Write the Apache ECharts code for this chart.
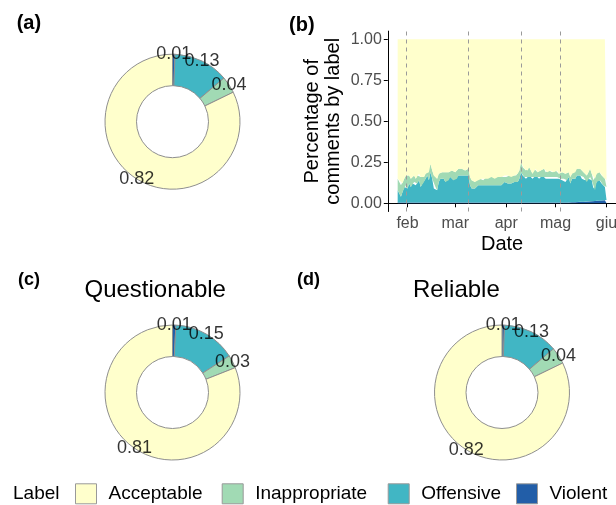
<!DOCTYPE html>
<html><head><meta charset="utf-8">
<script src="https://cdn.jsdelivr.net/npm/echarts@6/dist/echarts.min.js"></script>
<style>html,body{margin:0;padding:0;background:#fff}#c{width:616px;height:505px}</style>
</head><body><div id="c"></div><script>
// ---------- data ----------
const labelNames = ['Acceptable', 'Inappropriate', 'Offensive', 'Violent'];
const labelColors = ['#FFFFCC', '#A1DAB4', '#41B6C4', '#225EA8'];

// Pie order (clockwise from 12 o'clock)
const pieOrder = ['Violent', 'Offensive', 'Inappropriate', 'Acceptable'];
const pieAll = [0.006, 0.132, 0.040, 0.822];
const pieQuestionable = [0.008, 0.151, 0.031, 0.810];
const pieReliable = [0.006, 0.132, 0.040, 0.822];

// Daily series: first day = 26 Jan 2020 (day-of-year index, 0 = 1 Jan)
const firstDay = 25;
const violent = [
 .005,.005,.005,.005,.005,.005,.005,.005,.005,.005,
 .005,.005,.005,.005,.005,.005,.005,.005,.005,.005,
 .005,.005,.005,.005,.005,.005,.005,.005,.005,.005,
 .005,.005,.005,.005,.005,.005,.005,.005,.005,.005,
 .005,.005,.005,.005,.005,.005,.005,.005,.005,.005,
 .005,.005,.005,.005,.005,.005,.005,.005,.005,.005,
 .005,.005,.005,.005,.005,.005,.005,.005,.005,.005,
 .005,.005,.005,.005,.005,.005,.005,.005,.005,.005,
 .005,.005,.005,.005,.005,.005,.005,.005,.005,.005,
 .005,.005,.005,.005,.005,.005,.005,.005,.005,.005,
 .005,.005,.005,.005,.005,.006,.006,.007,.007,.008,
 .008,.009,.009,.010,.010,.011,.011,.012,.012,.013,
 .014,.015,.015,.016,.017,.018,.019,.020];
const offensive = [
 .075,.055,.035,.065,.095,.105,.085,.115,.095,.115,
 .125,.105,.115,.135,.095,.115,.125,.145,.165,.135,
 .185,.145,.085,.095,.075,.125,.145,.135,.145,.125,
 .145,.135,.155,.145,.135,.155,.145,.165,.175,.165,
 .175,.165,.175,.165,.105,.085,.095,.085,.095,.105,
 .095,.105,.095,.105,.115,.105,.115,.105,.115,.105,
 .115,.105,.115,.105,.115,.125,.115,.115,.125,.115,
 .115,.125,.115,.125,.145,.185,.165,.155,.145,.155,
 .165,.155,.145,.155,.165,.155,.145,.155,.165,.155,
 .145,.155,.145,.155,.145,.155,.145,.155,.145,.145,
 .135,.145,.125,.135,.155,.114,.144,.153,.143,.162,
 .152,.161,.141,.150,.130,.119,.139,.148,.128,.077,
 .066,.115,.135,.124,.103,.092,.081,.080];
const inappropriate = [
 .07,.08,.07,.05,.05,.06,.07,.05,.05,.04,
 .04,.04,.05,.04,.06,.05,.03,.03,.03,.05,
 .05,.05,.08,.06,.07,.05,.04,.05,.03,.06,
 .03,.05,.03,.05,.05,.03,.05,.04,.03,.04,
 .03,.03,.03,.04,.05,.05,.04,.04,.05,.03,
 .05,.04,.04,.04,.04,.04,.04,.05,.04,.04,
 .04,.05,.05,.05,.04,.04,.04,.05,.04,.04,
 .05,.04,.05,.05,.05,.06,.05,.05,.05,.04,
 .05,.04,.03,.05,.04,.03,.05,.04,.03,.05,
 .04,.03,.05,.04,.04,.03,.05,.04,.03,.04,
 .05,.03,.05,.04,.03,.04,.03,.04,.04,.04,
 .04,.04,.05,.03,.04,.04,.04,.05,.04,.05,
 .07,.05,.05,.05,.05,.05,.05,.04];
const acceptable = [
 .85,.86,.89,.88,.85,.83,.84,.83,.85,.84,
 .83,.85,.83,.82,.84,.83,.84,.82,.80,.81,
 .76,.80,.83,.84,.85,.82,.81,.81,.82,.81,
 .82,.81,.81,.80,.81,.81,.80,.79,.79,.79,
 .79,.80,.79,.79,.84,.86,.86,.87,.85,.86,
 .85,.85,.86,.85,.84,.85,.84,.84,.84,.85,
 .84,.84,.83,.84,.84,.83,.84,.83,.83,.84,
 .83,.83,.83,.82,.80,.75,.78,.79,.80,.80,
 .78,.80,.82,.79,.79,.81,.80,.80,.80,.79,
 .81,.81,.80,.80,.81,.81,.80,.80,.82,.81,
 .81,.82,.82,.82,.81,.84,.82,.80,.81,.79,
 .80,.79,.80,.81,.82,.83,.81,.79,.82,.86,
 .85,.82,.80,.81,.83,.84,.85,.86];

// Axis ticks (day of year 2020) and labels
const monthTickDays = [31, 60, 91, 121, 152];
const monthTickLabels = ['feb', 'mar', 'apr', 'mag', 'giu'];
const eventDays = [30, 68, 100, 124]; // 31 Jan, 9 Mar, 10 Apr, 4 May
const yTicks = [0, 0.25, 0.5, 0.75, 1];
// Axis extent (days) incl. padding either side of the data
const axisFirstDay = 19, axisLastDay = 158;

// ---------- chart ----------
const FONT = 'Liberation Sans, Arial, Helvetica, sans-serif';
const DASH = '#9a9a9a';
const colorOf = n => labelColors[labelNames.indexOf(n)];
const categories = [];
for (let d = axisFirstDay; d <= axisLastDay; d++) categories.push(String(d));
const onAxis = arr => categories.map(c => {
  const i = Number(c) - firstDay;
  return (i >= 0 && i < arr.length) ? arr[i] : '-';
});

function pieSeries(values, center) {
  return {
    type: 'pie', center: center, radius: [36, 67.5], startAngle: 90, clockwise: true,
    silent: true, label: { show: false }, labelLine: { show: false },
    itemStyle: { borderColor: '#8f8f8f', borderWidth: 1 },
    emphasis: { disabled: true },
    data: pieOrder.map((n, i) => ({ name: n, value: values[i], itemStyle: { color: colorOf(n) } }))
  };
}
// value labels placed on a polar system at the middle angle of each slice
function pieLabelSeries(values, polarIndex) {
  const total = values.reduce((a, b) => a + b, 0);
  let cum = 0;
  const pts = values.map(v => { const mid = (cum + v / 2) / total; cum += v; return [1, mid, v]; });
  return {
    type: 'scatter', coordinateSystem: 'polar', polarIndex: polarIndex, silent: true,
    symbolSize: 1, itemStyle: { color: 'rgba(0,0,0,0)' }, z: 10,
    label: { show: true, position: 'inside', color: '#000', fontSize: 18, fontFamily: FONT,
      formatter: p => p.value[2].toFixed(2) },
    emphasis: { disabled: true }, data: pts
  };
}
const pieCenters = [[172.5, 121.7], [172.5, 392.5], [502, 392.5]];
const labelRadius = 67.5;

const stackOrder = [['Violent', violent], ['Offensive', offensive], ['Inappropriate', inappropriate], ['Acceptable', acceptable]];
const areaSeries = stackOrder.map(([n, arr]) => ({
  type: 'line', name: n, stack: 'total', data: onAxis(arr), showSymbol: false, symbol: 'none',
  color: colorOf(n), lineStyle: { width: 0 }, areaStyle: { color: colorOf(n), opacity: 1 },
  emphasis: { disabled: true }, silent: true, z: 2
}));
// dashed event lines
const eventSeries = {
  type: 'line', name: 'events', data: [], silent: true, z: 3,
  color: DASH, lineStyle: { color: DASH },
  markLine: {
    silent: true, symbol: ['none', 'none'], label: { show: false },
    itemStyle: { color: DASH },
    lineStyle: { type: [4, 4], color: DASH, width: 1, opacity: 1 },
    emphasis: { disabled: true },
    data: eventDays.map(d => ({ xAxis: String(d), lineStyle: { color: DASH, type: [4, 4], width: 1 } }))
  }
};

const legendLefts = [75, 221.7, 387.7, 516];
const legends = labelNames.map((n, i) => ({
  data: [n], left: legendLefts[i], top: 483.3, padding: 0, orient: 'horizontal',
  itemWidth: 21, itemHeight: 20, icon: 'rect', selectedMode: false,
  itemStyle: { color: colorOf(n), borderColor: '#999', borderWidth: 1 },
  textStyle: { fontSize: 19, fontFamily: FONT, color: '#000', padding: [0, 0, 0, 7] }
}));

function txt(text, x, y, size, opts) {
  return {
    type: 'text', x: x, y: y, silent: true,
    style: Object.assign({ text: text, fontSize: size, fontFamily: FONT, fill: '#000',
      align: 'left', verticalAlign: 'middle' }, opts || {})
  };
}
const isTick = (idx, val) => monthTickDays.indexOf(Number(val)) >= 0;

const option = {
  animation: false,
  backgroundColor: '#fff',
  grid: { left: 387.8, top: 31.1, width: 228.6, height: 180.4, containLabel: false, outerBoundsMode: 'none' },
  xAxis: {
    type: 'category', data: categories, boundaryGap: false,
    axisLine: { show: true, lineStyle: { color: '#000', width: 1 } },
    axisTick: { show: true, length: 4, lineStyle: { color: '#000' }, interval: isTick, alignWithLabel: true },
    axisLabel: { color: '#4d4d4d', fontSize: 16, fontFamily: FONT, margin: 4, interval: isTick,
      formatter: v => monthTickLabels[monthTickDays.indexOf(Number(v))] },
    splitLine: { show: false },
    name: 'Date', nameLocation: 'middle', nameGap: 23,
    nameTextStyle: { fontSize: 20, fontFamily: FONT, color: '#000' }
  },
  yAxis: {
    type: 'value', min: -0.05, max: 1.05,
    axisLine: { show: true, lineStyle: { color: '#000', width: 1 } },
    axisTick: { show: true, length: 4, lineStyle: { color: '#000' }, customValues: yTicks },
    axisLabel: { color: '#4d4d4d', fontSize: 16, fontFamily: FONT, margin: 6,
      customValues: yTicks, formatter: v => v.toFixed(2) },
    splitLine: { show: false },
    name: 'Percentage of\ncomments by label', nameLocation: 'middle', nameGap: 44, nameRotate: 90,
    nameTextStyle: { fontSize: 20, fontFamily: FONT, color: '#000', lineHeight: 21 }
  },
  polar: pieCenters.map(c => ({ center: c, radius: labelRadius })),
  angleAxis: pieCenters.map((c, k) => ({ polarIndex: k, type: 'value', min: 0, max: 1, startAngle: 90,
    clockwise: true, show: false })),
  radiusAxis: pieCenters.map((c, k) => ({ polarIndex: k, type: 'value', min: 0, max: 1, show: false })),
  legend: legends,
  graphic: [
    txt('(a)', 16.7, 23.5, 20, { fontWeight: 'bold' }),
    txt('(b)', 289, 25.5, 20, { fontWeight: 'bold' }),
    txt('(c)', 18, 280.5, 18, { fontWeight: 'bold' }),
    txt('(d)', 297, 280.5, 18, { fontWeight: 'bold' }),
    txt('Questionable', 155.2, 290, 24, { align: 'center' }),
    txt('Reliable', 456.4, 290, 24, { align: 'center' }),
    txt('Label', 13, 493.5, 19)
  ],
  series: [].concat(
    areaSeries,
    [eventSeries],
    pieSeries(pieAll, pieCenters[0]),
    pieSeries(pieQuestionable, pieCenters[1]),
    pieSeries(pieReliable, pieCenters[2]),
    pieLabelSeries(pieAll, 0),
    pieLabelSeries(pieQuestionable, 1),
    pieLabelSeries(pieReliable, 2)
  )
};

const chart = echarts.init(document.getElementById('c'), null, { renderer: 'canvas' });
chart.setOption(option);
</script></body></html>
